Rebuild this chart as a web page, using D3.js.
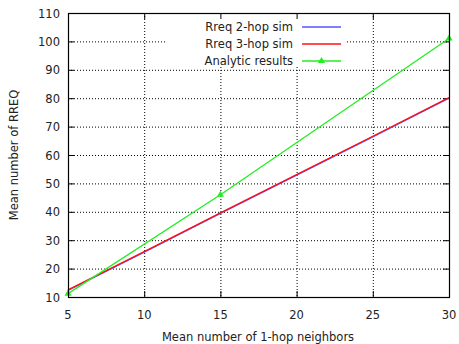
<!DOCTYPE html>
<html>
<head>
<meta charset="utf-8">
<script src="https://cdn.jsdelivr.net/npm/d3@7"></script>
<style>
body { margin: 0; background: #fff; }
svg { display: block; }
text { font-family: "DejaVu Sans", sans-serif; font-size: 11.5px; fill: #222; }
</style>
</head>
<body>
<svg id="chart" width="459" height="344"></svg>
<script>
// данные
var neighbors = [5, 10, 15, 20, 25, 30];
var rreq2hop = [12.3, 25.8, 39.4, 52.9, 66.4, 80.0];
var rreq3hop = [12.5, 26.0, 39.6, 53.1, 66.6, 80.2];
var analyticX = [5, 15, 30];
var analyticY = [11.2, 46.0, 101.0];
var xTicks = [5, 10, 15, 20, 25, 30];
var yTicks = [10, 20, 30, 40, 50, 60, 70, 80, 90, 100, 110];
var seriesNames = ["Rreq 2-hop sim", "Rreq 3-hop sim", "Analytic results"];
var seriesColors = ["#5555ff", "#ff1010", "#22ee22"];

//константы, связанные с canvas svg
var pLeft = 68, pRight = 449, pTop = 13, pBottom = 297;
var tickLen = 6;

var svg = d3.select("#chart");
var x = d3.scaleLinear().domain([5, 30]).range([pLeft, pRight]);
var y = d3.scaleLinear().domain([10, 110]).range([pBottom, pTop]);

// legend box (hides grid underneath)
var legendBox = {x0: 167, x1: 347, y0: 14, y1: 67};

var grid = svg.append("g");
grid.selectAll("line.gy").data(yTicks.slice(1, -1)).enter().append("line")
    .attr("x1", pLeft).attr("x2", pRight)
    .attr("y1", function(d){return y(d) + 0.5;}).attr("y2", function(d){return y(d) + 0.5;})
    .attr("stroke", "#000").attr("stroke-width", 1).attr("stroke-dasharray", "1,2");
grid.selectAll("line.gx").data(xTicks.slice(1, -1)).enter().append("line")
    .attr("y1", pTop).attr("y2", pBottom)
    .attr("x1", function(d){return x(d) + 0.5;}).attr("x2", function(d){return x(d) + 0.5;})
    .attr("stroke", "#000").attr("stroke-width", 1).attr("stroke-dasharray", "1,2");

svg.append("rect")
    .attr("x", legendBox.x0).attr("y", legendBox.y0)
    .attr("width", legendBox.x1 - legendBox.x0).attr("height", legendBox.y1 - legendBox.y0)
    .attr("fill", "#fff");

// ticks on all four sides, pointing inward
var ticks = svg.append("g").attr("stroke", "#000").attr("stroke-width", 1);
xTicks.forEach(function(d) {
    ticks.append("line").attr("x1", x(d) + 0.5).attr("x2", x(d) + 0.5).attr("y1", pBottom).attr("y2", pBottom - tickLen);
    ticks.append("line").attr("x1", x(d) + 0.5).attr("x2", x(d) + 0.5).attr("y1", pTop).attr("y2", pTop + tickLen);
});
yTicks.forEach(function(d) {
    ticks.append("line").attr("y1", y(d) + 0.5).attr("y2", y(d) + 0.5).attr("x1", pLeft).attr("x2", pLeft + tickLen);
    ticks.append("line").attr("y1", y(d) + 0.5).attr("y2", y(d) + 0.5).attr("x1", pRight).attr("x2", pRight - tickLen);
});

// tick labels
svg.selectAll("text.xt").data(xTicks).enter().append("text")
    .attr("x", function(d){return x(d);}).attr("y", 319)
    .attr("text-anchor", "middle")
    .text(function(d){return d;});
svg.selectAll("text.yt").data(yTicks).enter().append("text")
    .attr("x", 60).attr("y", function(d){return y(d) + 4.5;})
    .attr("text-anchor", "end")
    .text(function(d){return d;});

// axis titles
svg.append("text").attr("x", 258).attr("y", 341).attr("text-anchor", "middle")
    .text("Mean number of 1-hop neighbors");
svg.append("text").attr("transform", "translate(18,155) rotate(-90)").attr("text-anchor", "middle")
    .text("Mean number of RREQ");

var line = d3.line().x(function(d){return x(d[0]);}).y(function(d){return y(d[1]);});
var plot = svg.append("g");

plot.append("path")
    .attr("d", line(neighbors.map(function(d, i){return [d, rreq2hop[i]];})))
    .attr("fill", "none").attr("stroke", seriesColors[0]).attr("stroke-width", 1.3);
plot.append("path")
    .attr("d", line(neighbors.map(function(d, i){return [d, rreq3hop[i]];})))
    .attr("fill", "none").attr("stroke", seriesColors[1]).attr("stroke-width", 1.3);
plot.append("path")
    .attr("d", line(analyticX.map(function(d, i){return [d, analyticY[i]];})))
    .attr("fill", "none").attr("stroke", seriesColors[2]).attr("stroke-width", 1.3);

var tri = d3.symbol().type(d3.symbolTriangle).size(22);
plot.selectAll("path.mk").data(analyticX).enter().append("path")
    .attr("d", tri)
    .attr("transform", function(d, i){return "translate(" + x(d) + "," + y(analyticY[i]) + ")";})
    .attr("fill", seriesColors[2]);

// border
svg.append("rect").attr("x", pLeft + 0.5).attr("y", pTop + 0.5)
    .attr("width", pRight - pLeft).attr("height", pBottom - pTop)
    .attr("fill", "none").attr("stroke", "#000").attr("stroke-width", 1.2);

// legend
var legendY = [27, 44, 61];
seriesNames.forEach(function(name, i) {
    svg.append("text").attr("x", 293).attr("y", legendY[i] + 4).attr("text-anchor", "end").text(name);
    svg.append("line").attr("x1", 302).attr("x2", 341)
        .attr("y1", legendY[i]).attr("y2", legendY[i])
        .attr("stroke", seriesColors[i]).attr("stroke-width", 1.6);
    if (i == 2) {
        svg.append("path").attr("d", tri)
            .attr("transform", "translate(321.5," + legendY[i] + ")")
            .attr("fill", seriesColors[i]);
    }
});
</script>
</body>
</html>
